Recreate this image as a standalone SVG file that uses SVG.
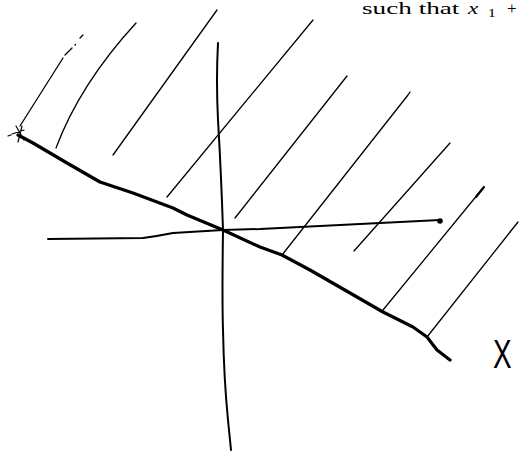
<svg xmlns="http://www.w3.org/2000/svg" width="519" height="451" viewBox="0 0 519 451">
<style>
.ink{fill:none;stroke:#000;stroke-linecap:round;stroke-linejoin:round}
.hatch{stroke-width:1.3}
.axis{stroke-width:2}
.bound{stroke-width:3.2}
.cap{font-family:"Liberation Serif",serif;font-size:17px;fill:#000}
.sub{font-family:"Liberation Serif",serif;font-size:12px;fill:#000}
</style>
<rect width="519" height="451" fill="#fff"/>
<g id="caption">
<text class="cap" transform="translate(362,14) scale(1.6,1)">such that</text>
<text class="cap" transform="translate(468,14) scale(1.35,1)" font-style="italic">x</text>
<text class="sub" transform="translate(488,17) scale(1.3,1)">1</text>
<text class="cap" transform="translate(507,14)">+</text>
</g>
<g id="hatching" class="ink hatch">
<path d="M20,126 L63,58 M65,55 L72,48 M75,45 L75.5,44.5 M80,38 L83,35"/>
<path d="M56,148 Q80,84 136,23"/>
<path d="M113,155 L217,10"/>
<path d="M167,197 L313,20"/>
<path d="M235,218 L347,76"/>
<path d="M282,255 L408,95 L410,92"/>
<path d="M354,251 L450,143"/>
<path d="M383,310 L483,188"/>
<path d="M476,197 L484,187" stroke-width="2.2"/>
<path d="M427,337 L518,222"/>
</g>
<g id="axes" class="ink axis">
<path d="M48,239 L143,238 Q158,236 173,233 L223,230 L260,229 L440,220"/>
<path d="M218,43 Q216,80 218,120 Q221,170 223,230 Q222,300 223,330 Q224,380 228,420 L231,450"/>
<circle cx="440" cy="221" r="2.8" fill="#000" stroke="none"/>
</g>
<g id="boundary" class="ink bound">
<path d="M18,135 L33,143 L67,163 L100,182 L133,193 L173,208 L187,215 L223,230 L260,247 L282,255 L310,270 L350,293 L383,312 L413,327 L427,337 L437,350 L450,360"/>
<path d="M12,134 L24,130 M16,126 L24,140 M22,126 L18,142 M8,136 L11,135" stroke-width="1.2"/>
</g>
<g id="label">
<text x="0" y="368" font-family="Liberation Sans, sans-serif" font-size="41" transform="translate(493,0) scale(0.68,1)" fill="#000">X</text>
</g>
</svg>
